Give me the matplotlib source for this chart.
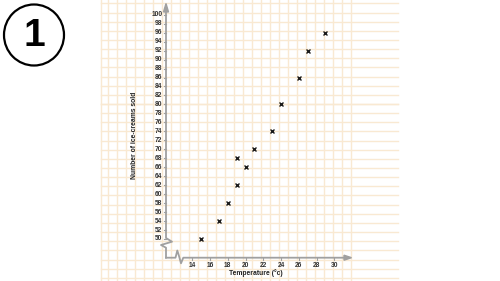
import numpy as np
import matplotlib
matplotlib.use("Agg")
import matplotlib.pyplot as plt
from matplotlib.patches import Ellipse, Polygon

# data
temperature = [15, 17, 18, 19, 19, 20, 21, 23, 24, 26, 27, 29]
ice_creams = [50, 54, 58, 62, 68, 66, 70, 74, 80, 86, 92, 96]
x_ticks = list(range(14, 31, 2))
y_ticks = list(range(50, 101, 2))

plt.rcParams['font.family'] = ['Liberation Sans', 'DejaVu Sans']

W, H = 500, 281
fig = plt.figure(figsize=(W / 100, H / 100), dpi=100)
ax = fig.add_axes([0, 0, 1, 1])
ax.set_axis_off()

# pixel -> data mapping (14 at px 192.3, 30 at px 334.3; 50 at py 239, 100 at py 14.7)
sx = (334.3 - 192.3) / 16
sy = (239 - 14.7) / 50
x0 = 14 - 192.3 / sx
x1 = 14 + (W - 192.3) / sx
y0 = 50 - (H - 239) / sy
y1 = 50 + 239 / sy
ax.set_xlim(x0, x1)
ax.set_ylim(y0, y1)

def px(p):
    return 14 + (p - 192.3) / sx

def py(p):
    return 50 + (239 - p) / sy

# graph paper
gl, gr = px(101), px(398)
gc = '#f9e9d2'
for gx in np.arange(31.88, gl, -9 / sx):
    ax.plot([gx, gx], [y0, y1], color=gc, lw=1.0, zorder=0)
ax.plot([gl, gl], [y0, y1], color=gc, lw=1.0, zorder=0)
for gy in np.arange(py(104), y0, -9.15 / sy):
    ax.plot([gl, gr], [gy, gy], color=gc, lw=1.0, zorder=0)
for gy in np.arange(py(104), y1, 9.15 / sy):
    ax.plot([gl, gr], [gy, gy], color=gc, lw=1.0, zorder=0)

# axes with break marks
ac = '#a0a0a0'
yax = px(166)
xax = py(257.7)
ax.plot([yax, yax, px(172), px(161), yax, yax],
        [py(12), py(238), py(241.7), py(245), py(247.7), xax], color=ac, lw=1.3, zorder=2)
ax.plot([yax, px(175.5), px(177.3), px(179), px(181), px(183.3), px(345)],
        [xax, xax, py(250.5), py(256), py(263.3), xax, xax], color=ac, lw=1.3, zorder=2)
ax.add_patch(Polygon([[yax, py(3.5)], [px(163.5), py(12)], [px(168.5), py(12)]],
                     closed=True, color=ac, zorder=2))
ax.add_patch(Polygon([[px(351.5), xax], [px(344), py(255.2)], [px(344), py(260.2)]],
                     closed=True, color=ac, zorder=2))

# ticks and labels
tc = '#333333'
for t in y_ticks:
    ax.plot([px(163.5), yax], [t, t], color=ac, lw=0.8, zorder=2)
    ax.text(px(162.5), t, str(t), ha='right', va='center', fontsize=4.8,
            fontweight='bold', color=tc)
for t in x_ticks:
    ax.plot([t, t], [xax, py(260)], color=ac, lw=0.8, zorder=2)
    ax.text(t, py(265.5), str(t), ha='center', va='center', fontsize=4.8,
            fontweight='bold', color=tc)

ax.text(px(255.5), py(273.5), 'Temperature (°c)', ha='center', va='center',
        fontsize=4.9, fontweight='bold', color='#222222')
ax.text(px(134), py(135), 'Number of ice-creams sold', ha='center', va='center',
        rotation=90, fontsize=4.9, fontweight='bold', color='#222222')

# data points
ax.plot(temperature, ice_creams, linestyle='none', marker='x', markersize=3.4,
        markeredgewidth=1.0, color='#1a1a1a', zorder=3)

# numbered circle
fig.add_artist(Ellipse((34 / W, 1 - 35 / H), 60 / W, 61 / H, transform=fig.transFigure,
                       fill=False, edgecolor='black', lw=1.6))
fig.text(34 / W, 1 - 36 / H, '1', ha='center', va='center', fontsize=28,
         fontweight='bold', color='black')

fig.savefig('out.png', dpi=100)
